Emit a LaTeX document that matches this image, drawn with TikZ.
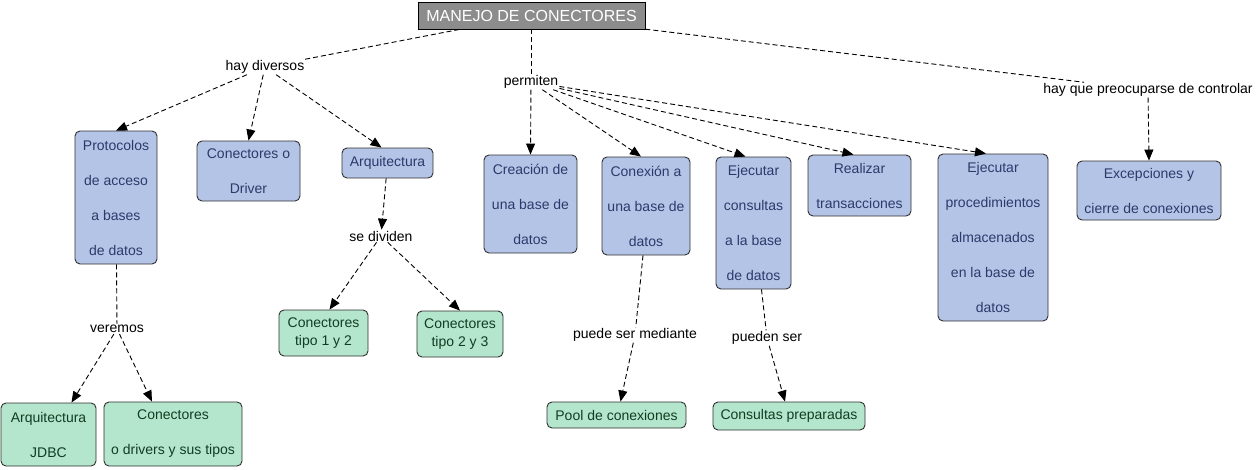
\documentclass[tikz,border=0pt]{standalone}
\usepackage{fontspec}
\setmainfont{Liberation Sans}
\usetikzlibrary{arrows.meta}
\definecolor{bfill}{HTML}{B4C4E6}
\definecolor{btext}{HTML}{2B3A6B}
\definecolor{gfill}{HTML}{B3E6CC}
\definecolor{gtext}{HTML}{123D22}
\definecolor{bord}{HTML}{303030}
\definecolor{tgray}{HTML}{8C8C8C}
\begin{document}
\begin{tikzpicture}[x=1pt,y=-1pt,
  box/.style={draw=bord, rounded corners=5pt, line width=0.9pt, inner sep=0pt, align=center, font=\fontsize{14}{35}\selectfont},
  bluebox/.style={box, fill=bfill, text=btext},
  greenbox/.style={box, fill=gfill, text=gtext},
  tight/.style={font=\fontsize{14}{18}\selectfont},
  titlebox/.style={draw=black, fill=tgray, text=white, line width=0.9pt, inner sep=0pt, font=\fontsize{16}{18}\selectfont},
  lbl/.style={inner sep=1pt, font=\fontsize{14}{16}\selectfont, text=black},
  conn/.style={draw=black, line width=0.9pt, dash pattern=on 5pt off 3pt},
  arr/.style={conn, -{Triangle[length=11pt,width=9pt]}}]
\useasboundingbox (0,0) rectangle (1256,469);

\node[titlebox, minimum width=227, minimum height=27] (t) at (531.5,15.5) {MANEJO DE CONECTORES};

\node[bluebox, minimum width=82, minimum height=133] (prot) at (116,197.5) {Protocolos\\de acceso\\a bases\\de datos};
\node[bluebox, minimum width=103, minimum height=60] (drv) at (248.5,171) {Conectores o\\Driver};
\node[bluebox, minimum width=91, minimum height=30] (arq) at (387.5,163) {Arquitectura};
\node[bluebox, minimum width=93, minimum height=98] (crea) at (530.5,204) {Creación de\\una base de\\datos};
\node[bluebox, minimum width=88, minimum height=98] (conx) at (646,206) {Conexión a\\una base de\\datos};
\node[bluebox, minimum width=75, minimum height=132] (ejc) at (753.5,223) {Ejecutar\\consultas\\a la base\\de datos};
\node[bluebox, minimum width=103, minimum height=61] (real) at (859.5,185.5) {Realizar\\transacciones};
\node[bluebox, minimum width=110, minimum height=167] (proc) at (993,237.5) {Ejecutar\\procedimientos\\almacenados\\en la base de\\datos};
\node[bluebox, minimum width=144, minimum height=59] (exc) at (1149,190.5) {Excepciones y\\cierre de conexiones};

\node[greenbox, tight, minimum width=89, minimum height=46] (t12) at (323.5,333) {Conectores\\tipo 1 y 2};
\node[greenbox, tight, minimum width=86, minimum height=46] (t23) at (460,334) {Conectores\\tipo 2 y 3};
\node[greenbox, minimum width=95, minimum height=63] (jdbc) at (48.5,434.5) {Arquitectura\\JDBC};
\node[greenbox, minimum width=138, minimum height=64] (cdrv) at (173,434) {Conectores\\o drivers y sus tipos};
\node[greenbox, minimum width=139, minimum height=26] (pool) at (616.5,415) {Pool de conexiones};
\node[greenbox, minimum width=152, minimum height=28] (cprep) at (789,416) {Consultas preparadas};

\node[lbl] (hd) at (265,67) {hay diversos};
\node[lbl] (perm) at (531,82) {permiten};
\node[lbl] (hq) at (1148,90) {hay que preocuparse de controlar};
\node[lbl] (sd) at (381,236) {se dividen};
\node[lbl] (ver) at (117,329) {veremos};
\node[lbl] (psm) at (635,335) {puede ser mediante};
\node[lbl] (ps) at (767,338) {pueden ser};

\draw[conn] (t) -- (hd);
\draw[arr] (hd) -- (prot.north);
\draw[arr] (hd) -- (drv.north);
\draw[arr] (hd) -- ([xshift=-6]arq.north);
\draw[conn] (t.south -| perm) -- (perm);
\draw[arr] (perm) -- (crea.north);
\draw[arr] (perm) -- ([xshift=-5]conx.north);
\draw[arr] (perm) -- ([xshift=-8]ejc.north);
\draw[arr] (perm) -- ([xshift=-6]real.north);
\draw[arr] (perm) -- ([xshift=-7]proc.north);
\draw[conn] (t) -- (hq);
\draw[arr] (hq) -- (exc.north);
\draw[arr] (arq) -- (sd);
\draw[arr] (sd) -- ([xshift=6]t12.north);
\draw[arr] (sd) -- (t23.north);
\draw[conn] (prot) -- (ver);
\draw[arr] (ver) -- ([xshift=23]jdbc.north);
\draw[arr] (ver) -- ([xshift=-21]cdrv.north);
\draw[conn] ([xshift=-3]conx.south) -- (psm);
\draw[arr] (psm) -- ([xshift=4]pool.north);
\draw[conn] ([xshift=8]ejc.south) -- (ps);
\draw[arr] (ps) -- ([xshift=-4]cprep.north);
\end{tikzpicture}
\end{document}
